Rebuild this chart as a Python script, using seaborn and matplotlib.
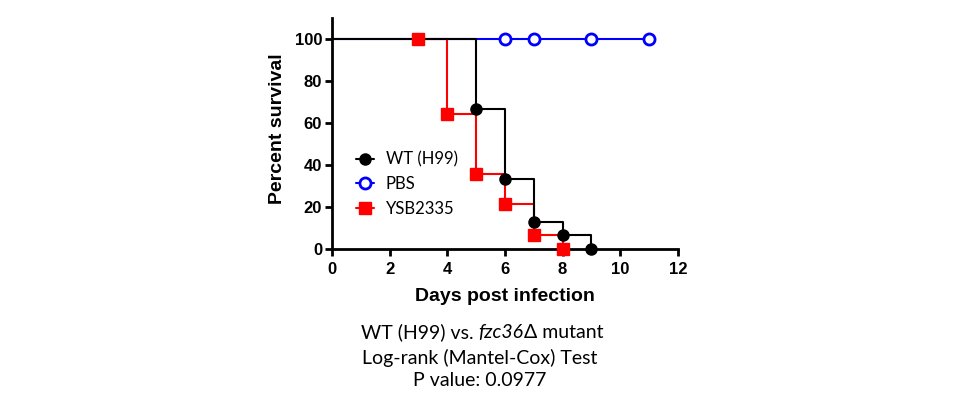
import matplotlib
matplotlib.use("Agg")
import matplotlib.pyplot as plt
from matplotlib.lines import Line2D
import seaborn as sns

# Survival curves (percent surviving), step changes on each day
wt_days = [0, 5, 6, 7, 8, 9]
wt_surv = [100, 66.7, 33.3, 13.3, 6.7, 0]
wt_mark_days = [5, 6, 7, 8, 9]
wt_mark_surv = [66.7, 33.3, 13.3, 6.7, 0]

pbs_days = [0, 11]
pbs_surv = [100, 100]
pbs_mark_days = [6, 7, 9, 11]
pbs_mark_surv = [100, 100, 100, 100]

ysb_days = [3, 4, 5, 6, 7, 8]
ysb_surv = [100, 64.3, 35.7, 21.4, 7.1, 0]
ysb_mark_days = [3, 4, 5, 6, 7, 8]
ysb_mark_surv = [100, 64.3, 35.7, 21.4, 7.1, 0]

x_ticks = [0, 2, 4, 6, 8, 10, 12]
y_ticks = [0, 20, 40, 60, 80, 100]
labels = ["WT (H99)", "PBS", "YSB2335"]

sns.set_style("ticks")
plt.rcParams["font.family"] = ["Liberation Sans", "DejaVu Sans"]
for k in ["text.color", "axes.labelcolor", "xtick.color", "ytick.color", "axes.edgecolor"]:
    plt.rcParams[k] = "black"

fig = plt.figure(figsize=(9.6, 4.15), dpi=100)
ax = fig.add_axes([0.3458, 0.3988, 0.3604, 0.5578])

lw = 1.5
ms = 8
# PBS drawn first so the black WT line sits on top of it
sns.lineplot(x=pbs_days, y=pbs_surv, ax=ax, color="#0000ff", lw=lw,
             drawstyle="steps-post", estimator=None, sort=False)
sns.lineplot(x=ysb_days, y=ysb_surv, ax=ax, color="#ff0000", lw=lw,
             drawstyle="steps-post", estimator=None, sort=False)
sns.lineplot(x=wt_days, y=wt_surv, ax=ax, color="black", lw=lw,
             drawstyle="steps-post", estimator=None, sort=False)

ax.plot(pbs_mark_days, pbs_mark_surv, ls="none", marker="o", ms=ms,
        mfc="white", mec="#0000ff", mew=2, clip_on=False, zorder=5)
ax.plot(ysb_mark_days, ysb_mark_surv, ls="none", marker="s", ms=ms,
        color="#ff0000", clip_on=False, zorder=5)
ax.plot(wt_mark_days, wt_mark_surv, ls="none", marker="o", ms=ms,
        color="black", clip_on=False, zorder=6)

ax.set_xlim(0, 12)
ax.set_ylim(0, 110)
ax.set_xticks(x_ticks)
ax.set_yticks(y_ticks)
ax.set_xticklabels([str(t) for t in x_ticks], fontweight="bold", fontsize=12)
ax.set_yticklabels([str(t) for t in y_ticks], fontweight="bold", fontsize=12)
ax.tick_params(axis="both", width=2, length=5, pad=2, color="black")
ax.tick_params(axis="x", pad=4)
for s in ["top", "right"]:
    ax.spines[s].set_visible(False)
for s in ["left", "bottom"]:
    ax.spines[s].set_linewidth(2)

ax.set_xlabel("Days post infection", fontweight="bold", fontsize=14, labelpad=8)
ax.set_ylabel("Percent survival", fontweight="bold", fontsize=14, labelpad=6,
              y=0.523)

handles = [
    Line2D([], [], color="black", lw=lw, marker="o", ms=ms),
    Line2D([], [], color="#0000ff", lw=lw, marker="o", ms=ms, mfc="white", mew=2),
    Line2D([], [], color="#ff0000", lw=lw, marker="s", ms=ms),
]
ax.legend(handles, labels, loc="upper left",
          bbox_to_anchor=(0.025, 0.487), frameon=False, handlelength=1.1,
          handletextpad=0.7, labelspacing=0.5,
          prop={"family": "Lato", "size": 12})

# caption below the plot, with the italic gene name
fs = 14
renderer = fig.canvas.get_renderer()
parts = [("WT (H99) vs. ", "normal"), ("fzc36", "italic"), ("Δ mutant", "normal")]
texts = [fig.text(0, 0.2, p, family="Lato", style=st, fontsize=fs, va="center")
         for p, st in parts]
widths = [t.get_window_extent(renderer).width for t in texts]
x = (960 - sum(widths)) / 2 + 2
for t, w in zip(texts, widths):
    t.set_x(x / 960)
    x += w
fig.text(0.5, 0.138, "Log-rank (Mantel-Cox) Test", ha="center", va="center",
         family="Lato", fontsize=fs)
fig.text(0.5, 0.082, "P value: 0.0977", ha="center", va="center",
         family="Lato", fontsize=fs)

fig.savefig("out.png", dpi=100)
